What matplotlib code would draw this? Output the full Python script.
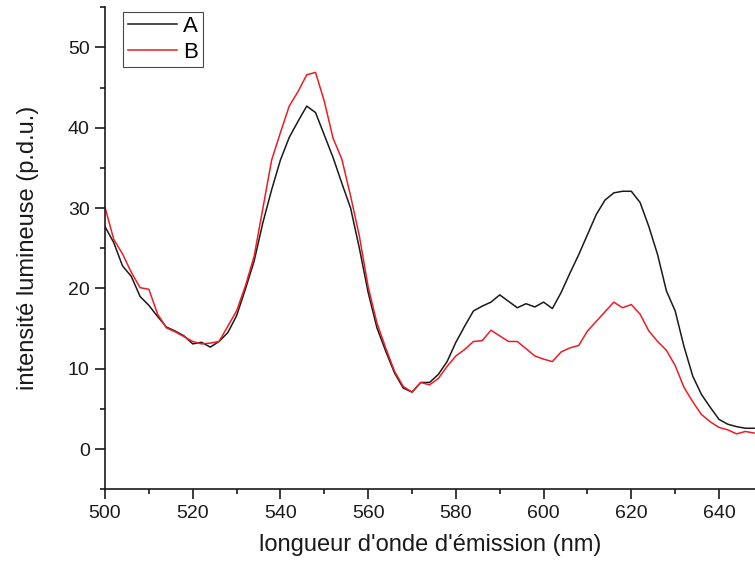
import matplotlib
matplotlib.use("Agg")
import matplotlib.pyplot as plt
import numpy as np
from matplotlib.ticker import MultipleLocator

plt.rcParams['font.family'] = ['Liberation Sans', 'DejaVu Sans']

wavelength = list(range(500, 650, 2))

series_a = [27.7, 25.7, 22.8, 21.5, 19.0, 17.9, 16.5, 15.2, 14.7, 14.1,
            13.1, 13.3, 12.7, 13.4, 14.5, 16.6, 19.9, 23.4, 28.2, 32.3,
            36.0, 38.8, 40.8, 42.7, 41.9, 39.1, 36.3, 33.1, 30.0, 25.0,
            19.5, 15.1, 12.2, 9.5, 7.6, 7.1, 8.3, 8.3, 9.3, 10.9,
            13.3, 15.3, 17.2, 17.8, 18.3, 19.2, 18.4, 17.6, 18.1, 17.7,
            18.3, 17.5, 19.5, 21.9, 24.2, 26.7, 29.2, 31.0, 31.9, 32.1,
            32.1, 30.7, 27.7, 24.2, 19.7, 17.2, 12.8, 9.1, 6.8, 5.2,
            3.7, 3.1, 2.8, 2.6, 2.6]

series_b = [30.1, 26.1, 24.3, 22.0, 20.1, 19.9, 16.8, 15.1, 14.6, 14.0,
            13.4, 13.1, 13.2, 13.4, 15.3, 17.2, 20.3, 24.0, 30.0, 36.0,
            39.4, 42.7, 44.5, 46.6, 46.9, 43.3, 38.7, 36.1, 31.5, 26.5,
            20.2, 15.7, 12.6, 9.7, 7.8, 7.1, 8.3, 8.0, 8.8, 10.3,
            11.6, 12.4, 13.4, 13.5, 14.8, 14.1, 13.4, 13.4, 12.5, 11.6,
            11.2, 10.9, 12.1, 12.6, 12.9, 14.7, 15.9, 17.1, 18.3, 17.6,
            18.0, 16.8, 14.7, 13.4, 12.3, 10.4, 7.7, 5.9, 4.3, 3.4,
            2.7, 2.4, 1.9, 2.2, 2.0]

labels = ["A", "B"]
x_label = "longueur d'onde d'émission (nm)"
y_label = "intensité lumineuse (p.d.u.)"

fig = plt.figure(figsize=(7.55, 5.65), dpi=100)
ax = fig.add_axes([105 / 755, (565 - 489.3) / 565, 650 / 755, (489.3 - 7.3) / 565])

ax.plot(wavelength, series_a, color='#1a1a1a', lw=1.1, label=labels[0])
ax.plot(wavelength, series_b, color='#ee1c24', lw=1.1, label=labels[1])

ax.set_xlim(500, 648.2)
ax.set_ylim(-5, 55)
ax.xaxis.set_major_locator(MultipleLocator(20))
ax.xaxis.set_minor_locator(MultipleLocator(10))
ax.yaxis.set_major_locator(MultipleLocator(10))
ax.yaxis.set_minor_locator(MultipleLocator(5))

for s in ['top', 'right']:
    ax.spines[s].set_visible(False)
for s in ['left', 'bottom']:
    ax.spines[s].set_linewidth(1.2)
    ax.spines[s].set_color('#1a1a1a')

ax.tick_params(which='major', direction='out', length=7, width=1.2,
               labelsize=14, colors='#1a1a1a', pad=4)
ax.tick_params(which='minor', direction='out', length=3.8, width=1.2, colors='#1a1a1a')

ax.set_xlabel(x_label, fontsize=17, color='#1a1a1a', labelpad=9)
ax.set_ylabel(y_label, fontsize=17, color='#1a1a1a', labelpad=21)

leg = ax.legend(loc='upper left', bbox_to_anchor=(0.028, 0.991), fontsize=16,
                frameon=True, fancybox=False, shadow=False, handlelength=2.2,
                handletextpad=0.3, labelspacing=0.2, borderpad=0.2,
                borderaxespad=0)
leg.get_frame().set_edgecolor('#1a1a1a')
leg.get_frame().set_linewidth(0.8)

fig.savefig('out.png', dpi=100)
